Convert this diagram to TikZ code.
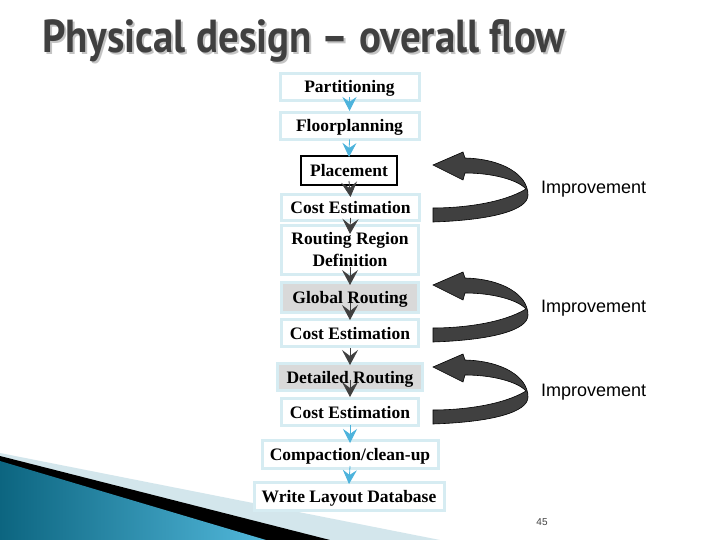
\documentclass[tikz,border=0pt]{standalone}
\usepackage{fontspec}
\usepackage{graphicx}
\setmainfont{Liberation Serif}
\newfontfamily\arialf{Liberation Sans}
\newfontfamily\titlef{PT Sans}
\usetikzlibrary{arrows.meta,calc}
\definecolor{boxline}{HTML}{D6ECF2}
\definecolor{chevdark}{HTML}{404040}
\definecolor{chevblue}{HTML}{4DB3DC}
\definecolor{grayfill}{HTML}{D9D9D9}
\definecolor{titlegray}{HTML}{404040}
\definecolor{shadowgray}{HTML}{C4C4C4}
\definecolor{paleblue}{HTML}{D3E6EC}
\definecolor{tealdark}{HTML}{0C6580}
\definecolor{teallight}{HTML}{52B8DB}
\newcommand{\titletext}{\titlef\bfseries Physical design – overall flow}
\begin{document}
\begin{tikzpicture}[x=1pt,y=-1pt,
  stepbase/.style={draw=boxline, line width=3pt, fill=white, inner sep=0pt, outer sep=0pt,
    font=\bfseries\fontsize{17.5}{22}\selectfont, align=center},
  stepbox/.style={stepbase, text height=12pt, text depth=0pt},
  graybox/.style={stepbox, fill=grayfill},
  chevd/.style={draw=chevdark, line width=0.8pt, -{Stealth[length=15pt,width=16pt,inset=6pt,fill=chevdark]}},
  chevb/.style={draw=chevblue, line width=0.8pt, -{Stealth[length=14pt,width=14pt,inset=5pt,fill=chevblue]}},
  improve/.pic={
    \filldraw[fill=chevdark, draw=black, line width=0.6pt]
      (0,57) .. controls (60,55) and (95,45) .. (95,30)
      .. controls (95,10) and (70,-6) .. (32,-7)
      -- (30,-13) -- (0,0) -- (30,15) -- (32,8)
      .. controls (60,8) and (85,15) .. (93,24)
      .. controls (70,38) and (30,43) .. (0,43) -- cycle;
  },
  imptext/.style={anchor=west, inner sep=0pt, font=\arialf\fontsize{18}{20}\selectfont, text=black}
]
\useasboundingbox (0,0) rectangle (720,540);
\fill[white] (0,0) rectangle (720,540);

% bottom-left decoration
\fill[paleblue] (0,453) -- (440,540) -- (0,540) -- cycle;
\fill[black] (0,456) -- (330,540) -- (0,540) -- cycle;
\shade[left color=tealdark, right color=teallight] (0,461) -- (266,540) -- (0,540) -- cycle;

% title (with its shadow, in one node)
\node[anchor=base west, inner sep=0pt, text=titlegray] (title) at (42,53)
  {\rlap{\raisebox{-2pt}{\hspace{2pt}\color{shadowgray}\resizebox{523pt}{33pt}{\titletext}}}%
   \resizebox{523pt}{33pt}{\titletext}};

% boxes
\node[stepbox, minimum width=139pt, minimum height=27pt] (part) at (349.5,87) {Partitioning};
\node[stepbox, minimum width=139pt, minimum height=27pt] (floor) at (349.5,126) {Floorplanning};
\node[stepbox, draw=black, line width=2pt, minimum width=96pt, minimum height=29pt] (place) at (349,170.5) {Placement};
\node[stepbox, minimum width=138pt, minimum height=26pt] (cost1) at (350.5,207.5) {Cost Estimation};
\node[stepbase, minimum width=137pt, minimum height=48pt] (rrd) at (350,250) {Routing Region\\Definition};
\node[graybox, minimum width=137pt, minimum height=30pt] (global) at (350,297) {Global Routing};
\node[stepbox, minimum width=137pt, minimum height=27pt] (cost2) at (350,333) {Cost Estimation};
\node[graybox, minimum width=145pt, minimum height=27pt] (detail) at (350,377) {Detailed Routing};
\node[stepbox, minimum width=137pt, minimum height=27pt] (cost3) at (350,412) {Cost Estimation};
\node[stepbox, minimum width=176pt, minimum height=28pt] (compact) at (350,454) {Compaction/clean-up};
\node[stepbox, minimum width=190pt, minimum height=28pt] (write) at (349,496) {Write Layout Database};

% chevron connectors
\draw[chevb] ([yshift=3.5pt]part.south) -- ([yshift=1.5pt]floor.north);
\draw[chevb] (floor.south) -- ([yshift=-1pt]place.north);
\draw[chevd] ([yshift=4pt]place.south) -- ([yshift=-2.5pt]cost1.north);
\draw[chevd] ([yshift=2.5pt]cost1.south) -- ([yshift=-8pt]rrd.north);
\draw[chevd] ([yshift=7pt]rrd.south) -- ([yshift=-3pt]global.north);
\draw[chevd] ([yshift=9pt]global.south) -- ([yshift=-0.5pt]cost2.north);
\draw[chevd] ([yshift=-1.5pt]cost2.south) -- ([yshift=-1.5pt]detail.north);
\draw[chevd] ([yshift=10.5pt]detail.south) -- ([yshift=1.5pt]cost3.north);
\draw[chevb] ([yshift=0.5pt]cost3.south) -- ([yshift=-3pt]compact.north);
\draw[chevb] ([yshift=2pt]compact.south) -- ([yshift=-2pt]write.north);

% improvement loops
\pic at (433,165) {improve};
\pic at (433,285) {improve};
\pic at (433,367) {improve};
\node[imptext] (imp1) at (541,189) {Improvement};
\node[imptext] (imp2) at (541,308) {Improvement};
\node[imptext] (imp3) at (541,392) {Improvement};

% page number
\node[inner sep=0pt, font=\arialf\fontsize{10}{12}\selectfont, text=titlegray] (pagenum) at (542,522) {45};
\end{tikzpicture}
\end{document}
